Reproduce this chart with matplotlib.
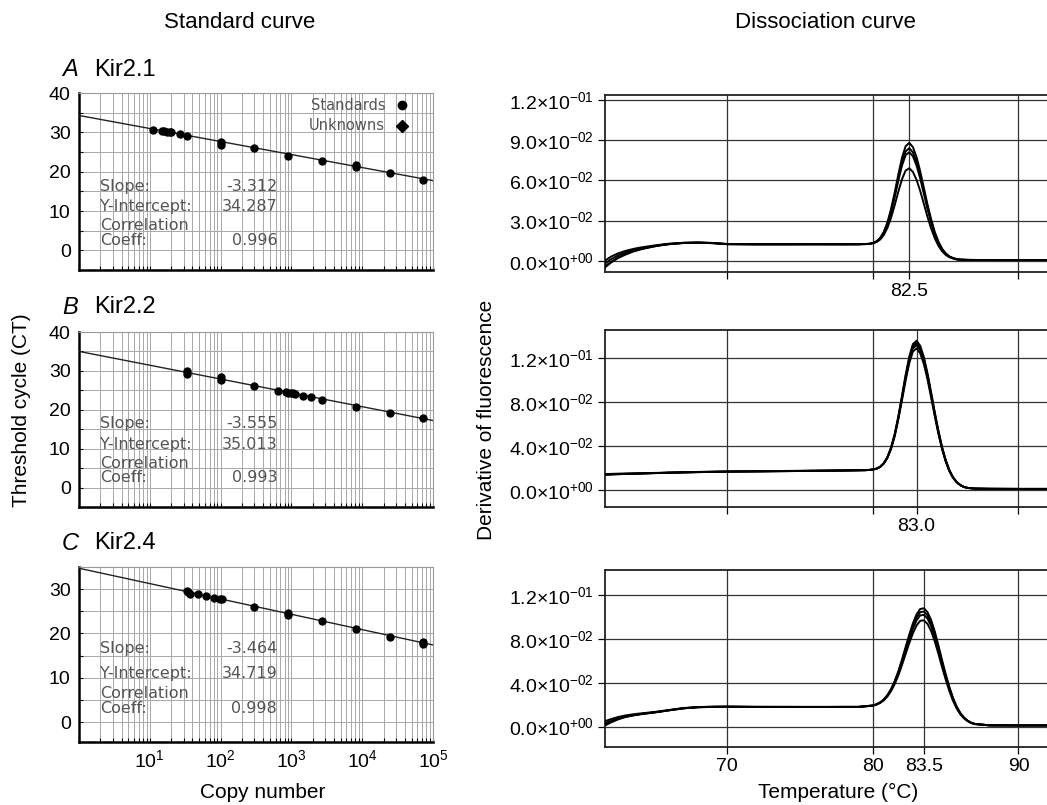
import numpy as np
import matplotlib
matplotlib.use('Agg')
import matplotlib.pyplot as plt
from matplotlib.ticker import LogLocator, FixedLocator, NullFormatter, MultipleLocator, LogFormatterSciNotation

plt.rcParams['font.family'] = ['Liberation Sans', 'DejaVu Sans']
plt.rcParams['mathtext.fontset'] = 'custom'
plt.rcParams['mathtext.rm'] = 'Liberation Sans'
plt.rcParams['mathtext.it'] = 'Liberation Sans:italic'
plt.rcParams['mathtext.bf'] = 'Liberation Sans:bold'

# ---------------- Standard curve data ----------------
A_copies = [11, 15, 16, 17.5, 19, 20, 27, 34, 100, 100, 300, 900, 2700, 8100, 8100, 24300, 72900]
A_ct = [30.7, 30.4, 30.3, 30.2, 30.1, 30.0, 29.5, 29.1, 27.5, 26.8, 26.0, 24.1, 22.7, 21.7, 21.1, 19.6, 17.8]
B_copies = [33, 33, 100, 100, 300, 650, 830, 900, 980, 1050, 1120, 1450, 1900, 2700, 8100, 24300, 72900]
B_ct = [29.9, 29.1, 28.4, 27.6, 26.0, 24.9, 24.6, 24.4, 24.2, 24.2, 24.0, 23.6, 23.2, 22.6, 20.8, 19.2, 17.8]
C_copies = [33, 35, 37, 48, 63, 80, 97, 105, 300, 900, 900, 2700, 8100, 24300, 72900, 72900]
C_ct = [29.6, 29.3, 29.0, 28.8, 28.4, 28.0, 27.8, 27.7, 26.0, 24.6, 24.2, 22.8, 21.1, 19.3, 18.1, 17.7]

gene_names = ['Kir2.1', 'Kir2.2', 'Kir2.4']
panel_letters = ['A', 'B', 'C']
slopes = [-3.312, -3.555, -3.464]
intercepts = [34.287, 35.013, 34.719]
corr_coeffs = [0.996, 0.993, 0.998]
copy_ticks = [1e1, 1e2, 1e3, 1e4, 1e5]

# ---------------- Dissociation curve data ----------------
base_temps = [61.6, 62.0, 62.5, 63.0, 63.5, 64.0, 64.5, 65.0, 65.5, 66.0, 67.0, 68.0,
              69.0, 70.0, 72.0, 74.0, 76.0, 78.0]

# Panel 1 (Kir2.1), peak 82.5
p1_peak_center = 82.5
p1_base = [
    [-0.002, 0.001, 0.004, 0.006, 0.0078, 0.009, 0.0100, 0.0110, 0.0118, 0.0125, 0.0133, 0.0135, 0.0132, 0.0124, 0.0123, 0.0123, 0.0123, 0.0123],
    [-0.004, -0.001, 0.0025, 0.005, 0.007, 0.0085, 0.0097, 0.0108, 0.0117, 0.0124, 0.0133, 0.0135, 0.0131, 0.0124, 0.0122, 0.0123, 0.0122, 0.0123],
    [0.000, 0.0030, 0.0055, 0.0073, 0.0087, 0.0098, 0.0106, 0.0114, 0.0121, 0.0127, 0.0134, 0.0136, 0.0133, 0.0125, 0.0124, 0.0123, 0.0124, 0.0123],
    [-0.005, -0.0015, 0.002, 0.0045, 0.0067, 0.0083, 0.0096, 0.0107, 0.0116, 0.0123, 0.0132, 0.0134, 0.0131, 0.0123, 0.0122, 0.0122, 0.0123, 0.0122],
]
p1_peak_temps = [79.0, 79.25, 79.5, 79.75, 80.0, 80.25, 80.5, 80.75, 81.0, 81.25, 81.5, 81.75,
                 82.0, 82.25, 82.5, 82.75, 83.0, 83.25, 83.5, 83.75, 84.0, 84.25, 84.5, 84.75,
                 85.0, 85.25, 85.5, 85.75, 86.0]
p1_peak = [
    [0.0123, 0.0124, 0.0125, 0.0126, 0.0133, 0.0145, 0.0170, 0.0215, 0.0286, 0.0386, 0.0510, 0.0645, 0.0769, 0.0855, 0.0880, 0.0848, 0.0774, 0.0668, 0.0545, 0.0421, 0.0310, 0.0215, 0.0143, 0.0090, 0.0055, 0.0032, 0.0020, 0.0012, 0.0008],
    [0.0123, 0.0124, 0.0125, 0.0126, 0.0132, 0.0143, 0.0168, 0.0210, 0.0278, 0.0372, 0.0490, 0.0618, 0.0736, 0.0816, 0.0840, 0.0809, 0.0738, 0.0637, 0.0520, 0.0402, 0.0295, 0.0205, 0.0136, 0.0086, 0.0053, 0.0031, 0.0019, 0.0011, 0.0008],
    [0.0123, 0.0124, 0.0124, 0.0126, 0.0132, 0.0142, 0.0166, 0.0207, 0.0271, 0.0362, 0.0475, 0.0598, 0.0710, 0.0788, 0.0810, 0.0780, 0.0711, 0.0614, 0.0501, 0.0387, 0.0285, 0.0198, 0.0132, 0.0083, 0.0051, 0.0030, 0.0019, 0.0011, 0.0008],
    [0.0123, 0.0123, 0.0124, 0.0125, 0.0130, 0.0139, 0.0158, 0.0192, 0.0246, 0.0321, 0.0415, 0.0516, 0.0609, 0.0673, 0.0690, 0.0663, 0.0604, 0.0521, 0.0425, 0.0328, 0.0241, 0.0168, 0.0112, 0.0071, 0.0044, 0.0026, 0.0017, 0.0010, 0.0007],
]
p1_tail_temps = [86.5, 88.0, 90.0, 91.96]
p1_tail = [0.0006, 0.0005, 0.0005, 0.0005]

# Panel 2 (Kir2.2), peak 83.0
p2_peak_center = 83.0
p2_base_temps = base_temps + [79.0]
p2_base = [
    [0.0142, 0.0144, 0.0146, 0.0148, 0.0149, 0.0151, 0.0153, 0.0155, 0.0156, 0.0158, 0.0161, 0.0164, 0.0166, 0.0168, 0.0170, 0.0173, 0.0175, 0.0178, 0.0180],
    [0.0138, 0.0141, 0.0144, 0.0146, 0.0148, 0.0150, 0.0152, 0.0154, 0.0155, 0.0157, 0.0160, 0.0163, 0.0165, 0.0167, 0.0170, 0.0172, 0.0175, 0.0177, 0.0179],
    [0.0146, 0.0147, 0.0149, 0.0150, 0.0151, 0.0153, 0.0154, 0.0156, 0.0157, 0.0159, 0.0162, 0.0165, 0.0167, 0.0169, 0.0171, 0.0174, 0.0176, 0.0179, 0.0181],
    [0.0140, 0.0143, 0.0145, 0.0147, 0.0149, 0.0150, 0.0152, 0.0154, 0.0156, 0.0158, 0.0161, 0.0163, 0.0165, 0.0168, 0.0170, 0.0172, 0.0175, 0.0178, 0.0180],
]
p2_peak_temps = [79.5, 79.75, 80.0, 80.25, 80.5, 80.75, 81.0, 81.25, 81.5, 81.75, 82.0, 82.25,
                 82.5, 82.75, 83.0, 83.25, 83.5, 83.75, 84.0, 84.25, 84.5, 84.75, 85.0, 85.25,
                 85.5, 85.75, 86.0, 86.25, 86.5]
p2_peak = [
    [0.0181, 0.0183, 0.0187, 0.0195, 0.0212, 0.0245, 0.0300, 0.0387, 0.0510, 0.0672, 0.0859, 0.1049, 0.1216, 0.1330, 0.1360, 0.1314, 0.1213, 0.1065, 0.0891, 0.0710, 0.0541, 0.0393, 0.0274, 0.0182, 0.0118, 0.0074, 0.0046, 0.0029, 0.0020],
    [0.0181, 0.0183, 0.0187, 0.0195, 0.0212, 0.0244, 0.0298, 0.0384, 0.0505, 0.0664, 0.0847, 0.1035, 0.1199, 0.1310, 0.1340, 0.1295, 0.1195, 0.1049, 0.0877, 0.0699, 0.0533, 0.0387, 0.0270, 0.0180, 0.0116, 0.0073, 0.0045, 0.0028, 0.0019],
    [0.0181, 0.0183, 0.0187, 0.0194, 0.0211, 0.0243, 0.0296, 0.0380, 0.0499, 0.0656, 0.0836, 0.1020, 0.1182, 0.1291, 0.1320, 0.1275, 0.1177, 0.1033, 0.0864, 0.0689, 0.0525, 0.0381, 0.0266, 0.0177, 0.0114, 0.0072, 0.0045, 0.0028, 0.0019],
    [0.0181, 0.0183, 0.0187, 0.0194, 0.0210, 0.0241, 0.0293, 0.0375, 0.0491, 0.0644, 0.0819, 0.0999, 0.1156, 0.1262, 0.1290, 0.1246, 0.1149, 0.1009, 0.0844, 0.0673, 0.0513, 0.0373, 0.0260, 0.0173, 0.0112, 0.0071, 0.0044, 0.0028, 0.0019],
]
p2_tail_temps = [87.0, 88.0, 90.0, 91.96]
p2_tail = [0.0013, 0.0011, 0.0010, 0.0010]

# Panel 3 (Kir2.4), peak 83.5
p3_peak_center = 83.5
p3_base_temps = base_temps + [79.0]
p3_base = [
    [0.003, 0.0052, 0.0075, 0.0093, 0.0105, 0.0115, 0.0123, 0.0131, 0.0140, 0.0150, 0.0168, 0.0178, 0.0181, 0.0182, 0.0180, 0.0180, 0.0179, 0.0180, 0.0180],
    [0.001, 0.0038, 0.0066, 0.0087, 0.0101, 0.0112, 0.0121, 0.0129, 0.0139, 0.0149, 0.0167, 0.0177, 0.0180, 0.0181, 0.0179, 0.0179, 0.0180, 0.0179, 0.0179],
    [0.005, 0.0068, 0.0088, 0.0102, 0.0112, 0.0120, 0.0127, 0.0134, 0.0143, 0.0152, 0.0170, 0.0179, 0.0182, 0.0183, 0.0181, 0.0181, 0.0180, 0.0181, 0.0181],
    [0.002, 0.0045, 0.0071, 0.0090, 0.0103, 0.0113, 0.0122, 0.0130, 0.0139, 0.0149, 0.0167, 0.0177, 0.0180, 0.0181, 0.0180, 0.0179, 0.0179, 0.0180, 0.0180],
]
p3_peak_temps = [80.0, 80.25, 80.5, 80.75, 81.0, 81.25, 81.5, 81.75, 82.0, 82.25, 82.5, 82.75,
                 83.0, 83.25, 83.5, 83.75, 84.0, 84.25, 84.5, 84.75, 85.0, 85.25, 85.5, 85.75,
                 86.0, 86.25, 86.5, 86.75, 87.0]
p3_peak = [
    [0.0193, 0.0204, 0.0221, 0.0248, 0.0288, 0.0343, 0.0416, 0.0506, 0.0612, 0.0727, 0.0840, 0.0943, 0.1024, 0.1073, 0.1080, 0.1045, 0.0973, 0.0869, 0.0742, 0.0608, 0.0480, 0.0364, 0.0264, 0.0185, 0.0126, 0.0084, 0.0055, 0.0036, 0.0025],
    [0.0193, 0.0203, 0.0220, 0.0246, 0.0285, 0.0338, 0.0409, 0.0495, 0.0598, 0.0710, 0.0819, 0.0918, 0.0997, 0.1044, 0.1050, 0.1016, 0.0946, 0.0844, 0.0721, 0.0591, 0.0466, 0.0353, 0.0257, 0.0180, 0.0123, 0.0082, 0.0054, 0.0035, 0.0025],
    [0.0192, 0.0203, 0.0219, 0.0244, 0.0281, 0.0333, 0.0401, 0.0485, 0.0585, 0.0692, 0.0798, 0.0893, 0.0969, 0.1015, 0.1020, 0.0987, 0.0918, 0.0819, 0.0700, 0.0573, 0.0453, 0.0343, 0.0249, 0.0175, 0.0119, 0.0080, 0.0053, 0.0035, 0.0024],
    [0.0191, 0.0201, 0.0216, 0.0240, 0.0276, 0.0325, 0.0389, 0.0468, 0.0562, 0.0663, 0.0763, 0.0852, 0.0923, 0.0966, 0.0970, 0.0938, 0.0872, 0.0778, 0.0665, 0.0544, 0.0430, 0.0326, 0.0237, 0.0167, 0.0114, 0.0077, 0.0051, 0.0033, 0.0023],
]
p3_tail_temps = [88.0, 90.0, 91.96]
p3_tail = [0.0012, 0.0011, 0.0011]

p1_yticks = [0.0, 0.03, 0.06, 0.09, 0.12]
p1_yticklabels = [r'$0.0{\times}10^{+00}$', r'$3.0{\times}10^{-02}$', r'$6.0{\times}10^{-02}$',
                  r'$9.0{\times}10^{-02}$', r'$1.2{\times}10^{-01}$']
p23_yticks = [0.0, 0.04, 0.08, 0.12]
p23_yticklabels = [r'$0.0{\times}10^{+00}$', r'$4.0{\times}10^{-02}$', r'$8.0{\times}10^{-02}$',
                   r'$1.2{\times}10^{-01}$']

# ---------------- Figure ----------------
W, H = 1047, 805
fig = plt.figure(figsize=(W / 100, H / 100), dpi=100)


def ax_px(l, t, r, b):
    return fig.add_axes([l / W, 1 - b / H, (r - l) / W, (b - t) / H])


left_boxes = [(79, 93, 433, 270), (79, 332, 433, 507), (79, 567, 433, 742)]
left_ylims = [(-5, 40), (-5, 40), (-4.5, 35)]
left_data = [(A_copies, A_ct), (B_copies, B_ct), (C_copies, C_ct)]
title_y = [70, 307, 543]
stat_rows = [(0.47, 0.36, 0.25, 0.165), (0.48, 0.36, 0.246, 0.17), (0.537, 0.389, 0.28, 0.194)]
stat_color = '#555555'

for i in range(3):
    ax = ax_px(*left_boxes[i])
    ax.set_xscale('log')
    ax.set_xlim(1, 1e5)
    ax.set_ylim(*left_ylims[i])
    ax.xaxis.set_major_locator(FixedLocator(copy_ticks))
    ax.xaxis.set_major_formatter(LogFormatterSciNotation())
    ax.xaxis.set_minor_locator(LogLocator(base=10, subs=np.arange(2, 10), numticks=20))
    ax.xaxis.set_minor_formatter(NullFormatter())
    top = 40 if i < 2 else 30
    ax.yaxis.set_major_locator(FixedLocator(list(range(0, top + 1, 10))))
    ax.yaxis.set_minor_locator(MultipleLocator(5))
    ax.grid(True, which='both', axis='both', color='#a8a8a8', lw=0.7)
    ax.set_axisbelow(True)
    for s in ['top', 'right']:
        ax.spines[s].set_color('#999999')
        ax.spines[s].set_linewidth(0.8)
    for s in ['left', 'bottom']:
        ax.spines[s].set_color('black')
        ax.spines[s].set_linewidth(1.8)
    ax.tick_params(axis='both', which='both', direction='in', length=3, width=0.8)
    ax.tick_params(axis='y', labelsize=14, pad=6)
    ax.tick_params(axis='x', labelsize=14, pad=5)
    if i < 2:
        ax.tick_params(axis='x', labelbottom=False)
    # regression line
    xx = np.logspace(0, 5, 50)
    ax.plot(xx, slopes[i] * np.log10(xx) + intercepts[i], color='#222222', lw=1.0, zorder=3)
    cx, cy = left_data[i]
    ax.plot(cx, cy, 'o', color='black', ms=5, zorder=4)
    # stats text
    r = stat_rows[i]
    kw = dict(transform=ax.transAxes, fontsize=11.5, color=stat_color, family='DejaVu Sans',
              va='center', zorder=5)
    ax.text(0.06, r[0], 'Slope:', ha='left', **kw)
    ax.text(0.56, r[0], f'{slopes[i]:.3f}', ha='right', **kw)
    ax.text(0.06, r[1], 'Y-Intercept:', ha='left', **kw)
    ax.text(0.56, r[1], f'{intercepts[i]:.3f}', ha='right', **kw)
    ax.text(0.06, r[2], 'Correlation', ha='left', **kw)
    ax.text(0.06, r[3], 'Coeff:', ha='left', **kw)
    ax.text(0.56, r[3], f'{corr_coeffs[i]:.3f}', ha='right', **kw)
    if i == 0:
        kl = dict(kw)
        kl['fontsize'] = 10.5
        ax.text(0.865, 0.932, 'Standards', ha='right', **kl)
        ax.text(0.865, 0.814, 'Unknowns', ha='right', **kl)
        ax.plot([0.912], [0.932], 'o', color='black', ms=6, transform=ax.transAxes, clip_on=False, zorder=5)
        ax.plot([0.912], [0.814], 'D', color='black', ms=6, transform=ax.transAxes, clip_on=False, zorder=5)
    # panel titles
    fig.text(62 / W, 1 - title_y[i] / H, panel_letters[i], fontsize=17, style='italic',
             va='center', ha='left')
    fig.text(94 / W, 1 - title_y[i] / H, gene_names[i], fontsize=17, va='center', ha='left')

# Right panels
right_boxes = [(605, 95, 1047, 271.7), (605, 330, 1047, 506.7), (605, 570, 1047, 746.7)]
right_ylims = [(-0.0082, 0.1237), (-0.0152, 0.1458), (-0.0183, 0.1429)]
panels = [
    (base_temps, p1_base, p1_peak_temps, p1_peak, p1_tail_temps, p1_tail, p1_peak_center),
    (p2_base_temps, p2_base, p2_peak_temps, p2_peak, p2_tail_temps, p2_tail, p2_peak_center),
    (p3_base_temps, p3_base, p3_peak_temps, p3_peak, p3_tail_temps, p3_tail, p3_peak_center),
]
for i in range(3):
    ax = ax_px(*right_boxes[i])
    bt, bv, pt, pv, tt, tv, c = panels[i]
    temps = np.concatenate([bt, pt, tt])
    for k in range(len(bv)):
        vals = np.concatenate([bv[k], pv[k], tv])
        ax.plot(temps, vals, color='black', lw=1.4, zorder=3)
    ax.set_xlim(61.6, 91.96)
    ax.set_ylim(*right_ylims[i])
    if i == 0:
        ax.set_yticks(p1_yticks)
        ax.set_yticklabels(p1_yticklabels)
    else:
        ax.set_yticks(p23_yticks)
        ax.set_yticklabels(p23_yticklabels)
    ax.set_xticks([70, 80, c, 90])
    if i == 2:
        ax.set_xticklabels(['70', '80', f'{c:.1f}', '90'])
    else:
        ax.set_xticklabels(['', '', f'{c:.1f}', ''])
    ax.grid(True, color='#333333', lw=0.9)
    ax.set_axisbelow(True)
    for s in ['top', 'left', 'bottom']:
        ax.spines[s].set_color('#222222')
        ax.spines[s].set_linewidth(1.3)
    ax.spines['right'].set_visible(False)
    ax.tick_params(axis='both', direction='out', length=5, width=0.9, labelsize=14, pad=3)

# axis labels & headers
fig.text(22 / W, 1 - 410 / H, 'Threshold cycle (CT)', rotation=90, va='center', ha='center', fontsize=15)
fig.text(486 / W, 1 - 420 / H, 'Derivative of fluorescence', rotation=90, va='center', ha='center', fontsize=15)
fig.text(263 / W, 1 - 792 / H, 'Copy number', va='center', ha='center', fontsize=15)
fig.text(838 / W, 1 - 792 / H, 'Temperature (\u00b0C)', va='center', ha='center', fontsize=15)
fig.text(240 / W, 1 - 22 / H, 'Standard curve', va='center', ha='center', fontsize=16)
fig.text(825 / W, 1 - 22 / H, 'Dissociation curve', va='center', ha='center', fontsize=16)

fig.savefig('out.png', dpi=100)
